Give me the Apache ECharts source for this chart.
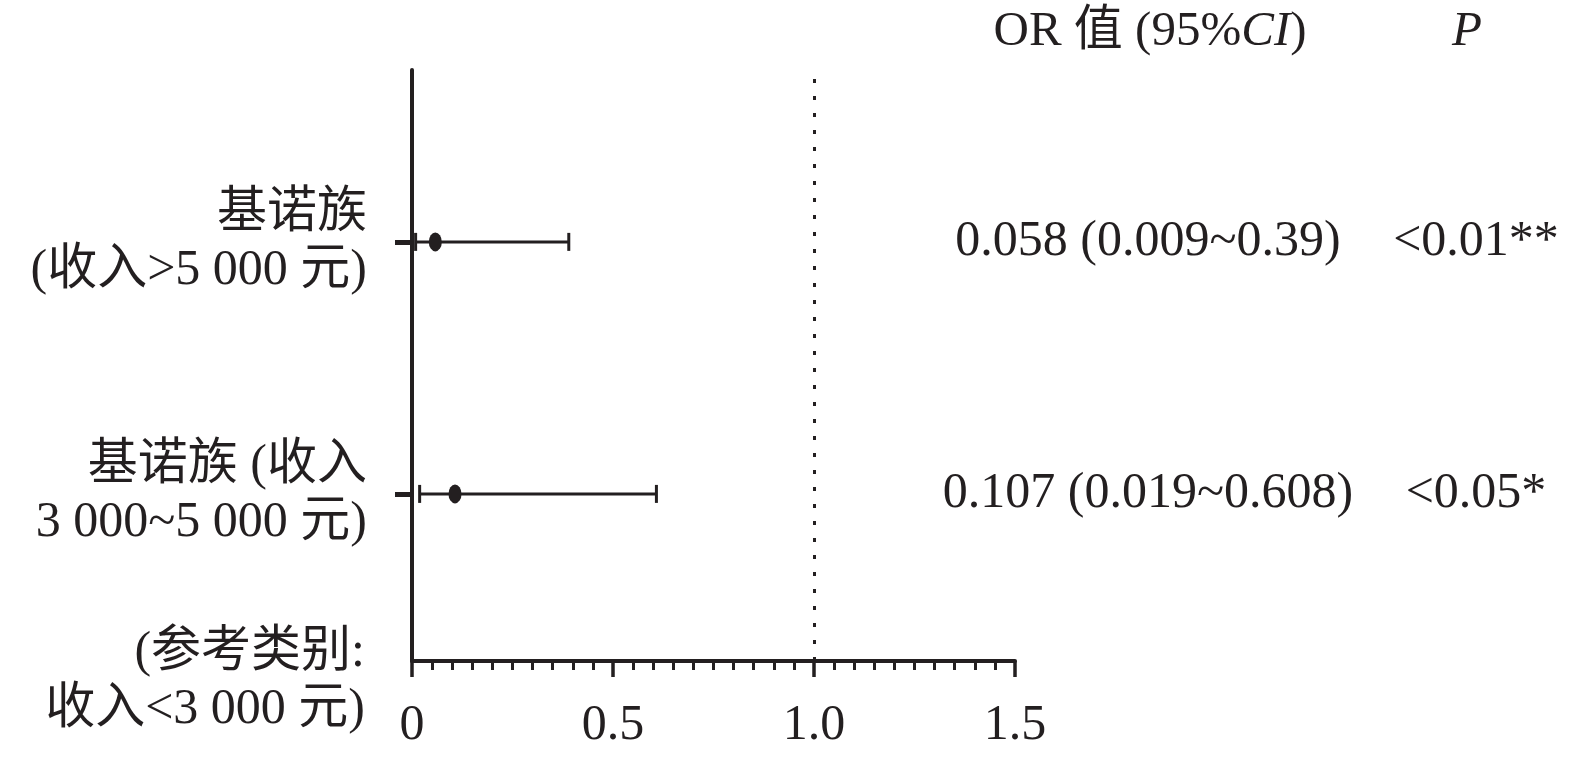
<!DOCTYPE html>
<html>
<head>
<meta charset="utf-8">
<script src="https://cdn.jsdelivr.net/npm/echarts@6/dist/echarts.min.js"></script>
<style>
html,body{margin:0;padding:0;background:#fff;}
#c{width:1575px;height:758px;}
</style>
</head>
<body>
<div id="c"></div>
<script>
// ---- data ----
const rowLabels = ['基诺族 (收入\n3 000~5 000 元)', '基诺族\n(收入>5 000 元)'];
const rowPos = [1, 2];
const orValues = [0.107, 0.058];
const ciLow = [0.019, 0.009];
const ciHigh = [0.608, 0.39];
const orText = ['0.107 (0.019~0.608)', '0.058 (0.009~0.39)'];
const pText = ['<0.05*', '<0.01**'];
const refLabel = '(参考类别:\n收入<3 000 元)';
const xTicks = [0, 0.5, 1.0, 1.5];
const xTickLabels = ['0', '0.5', '1.0', '1.5'];
const refLine = 1.0;

const FONT = '"Liberation Serif","Noto Sans CJK SC",serif';
const INK = '#231f20';

const chart = echarts.init(document.getElementById('c'), null, {renderer: 'canvas'});

const errData = rowPos.map((y, i) => [ciLow[i], ciHigh[i], y]);
const ptData = rowPos.map((y, i) => [orValues[i], y]);

const option = {
  backgroundColor: '#fff',
  animation: false,
  grid: {left: 412, top: 70, width: 603, height: 591, containLabel: false},
  xAxis: {
    type: 'value', min: 0, max: 1.5, interval: 0.5,
    splitLine: {show: false},
    axisLine: {show: true, lineStyle: {color: INK, width: 4}},
    axisTick: {show: true, length: 16, lineStyle: {color: INK, width: 3.5}},
    minorTick: {show: true, splitNumber: 10, length: 9, lineStyle: {color: INK, width: 3}},
    axisLabel: {
      margin: 40, fontSize: 50, fontFamily: FONT, color: INK,
      formatter: v => { const k = xTicks.findIndex(t => Math.abs(t - v) < 1e-9); return k >= 0 ? xTickLabels[k] : ''; }
    }
  },
  yAxis: {
    type: 'value', min: 0.337, max: 2.682,
    splitLine: {show: false},
    axisLine: {show: true, onZero: false, lineStyle: {color: INK, width: 4}},
    axisTick: {show: true, customValues: rowPos, length: 17, lineStyle: {color: INK, width: 5}},
    axisLabel: {
      show: true, customValues: rowPos, margin: 45, fontSize: 50, lineHeight: 57,
      fontFamily: FONT, color: INK, align: 'right', padding: [18, 0, 0, 0],
      formatter: v => { const k = rowPos.indexOf(Math.round(v)); return k >= 0 ? rowLabels[k] : ''; }
    }
  },
  series: [
    {
      type: 'custom',
      data: errData,
      encode: {x: [0, 1], y: 2},
      renderItem: function (params, api) {
        const lo = api.coord([api.value(0), api.value(2)]);
        const hi = api.coord([api.value(1), api.value(2)]);
        const h = 9;
        const st = {stroke: INK, lineWidth: 3};
        return {
          type: 'group',
          children: [
            {type: 'line', shape: {x1: lo[0], y1: lo[1], x2: hi[0], y2: hi[1]}, style: st},
            {type: 'line', shape: {x1: lo[0], y1: lo[1] - h, x2: lo[0], y2: lo[1] + h}, style: st},
            {type: 'line', shape: {x1: hi[0], y1: hi[1] - h, x2: hi[0], y2: hi[1] + h}, style: st}
          ]
        };
      },
      markLine: {
        silent: true, symbol: 'none',
        label: {show: false},
        lineStyle: {color: INK, width: 3, type: [4, 13], opacity: 1},
        data: [{xAxis: refLine}]
      },
      z: 2
    },
    {
      type: 'scatter',
      data: ptData,
      symbol: 'circle',
      symbolSize: [13, 19],
      itemStyle: {color: INK, opacity: 1},
      z: 3
    }
  ],
  graphic: [
    {type: 'text', style: {
      x: 365, y: 681, text: refLabel, fontSize: 50, lineHeight: 57, fontFamily: FONT,
      fill: INK, align: 'right', verticalAlign: 'middle'
    }},
    {type: 'text', style: {
      x: 1150, y: 32, align: 'center', verticalAlign: 'middle',
      text: '{n|OR 值 (95%}{i|CI}{n|)}',
      rich: {
        n: {fontSize: 49, fontFamily: FONT, fill: INK},
        i: {fontSize: 49, fontFamily: FONT, fontStyle: 'italic', fill: INK}
      }
    }},
    {type: 'text', style: {
      x: 1467, y: 32, align: 'center', verticalAlign: 'middle',
      text: 'P', fontSize: 49, fontFamily: FONT, fontStyle: 'italic', fill: INK
    }}
  ]
};

chart.setOption(option);
// right-hand OR / P text columns, positioned at the rows via the axis
const extra = [];
rowPos.forEach((y, i) => {
  const py = chart.convertToPixel({gridIndex: 0}, [0, y])[1];
  extra.push({type: 'text', style: {x: 1148, y: py, align: 'center', verticalAlign: 'middle',
    text: orText[i], fontSize: 50, fontFamily: FONT, fill: INK}});
  extra.push({type: 'text', style: {x: 1476, y: py, align: 'center', verticalAlign: 'middle',
    text: pText[i], fontSize: 50, fontFamily: FONT, fill: INK}});
});
chart.setOption({graphic: option.graphic.concat(extra)});
</script>
</body>
</html>
